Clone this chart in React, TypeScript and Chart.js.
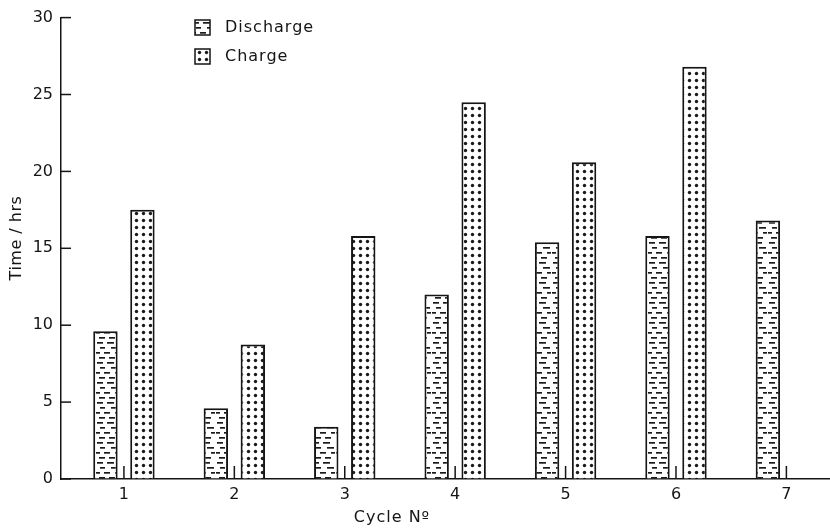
import React, { useEffect, useRef } from "react";
import { Chart, registerables } from "chart.js";

Chart.register(...registerables);

const cycles = [1, 2, 3, 4, 5, 6, 7];
const cycleLabels = ["1", "2", "3", "4", "5", "6", "7"];
const dischargeHours = [9.6, 4.6, 3.4, 12.0, 15.4, 15.8, 16.8];
const chargeHours: (number | null)[] = [17.5, 8.75, 15.8, 24.5, 20.6, 26.8, null];
const yTicks = [0, 5, 10, 15, 20, 25, 30];
const seriesNames = ["Discharge", "Charge"];
const xTitle = "Cycle Nº";
const yTitle = "Time / hrs";

const FONT = "'DejaVu Sans', 'Liberation Sans', sans-serif";
const INK = "#151515";

function makeDashPattern(): CanvasPattern | string {
  const c = document.createElement("canvas");
  c.width = 24;
  c.height = 20;
  const g = c.getContext("2d");
  if (!g) return "#fff";
  g.fillStyle = "#fff";
  g.fillRect(0, 0, 24, 20);
  g.fillStyle = "#1a1a1a";
  const rows: [number, number, number][] = [
    [2, 1, 6], [2, 11, 7],
    [7, 4, 5], [7, 15, 7],
    [12, 0, 4], [12, 8, 6], [12, 19, 4],
    [17, 3, 6], [17, 13, 6],
  ];
  rows.forEach(([y, x, w]) => g.fillRect(x, y, w, 1.7));
  return g.createPattern(c, "repeat") || "#fff";
}

function makeDotPattern(): CanvasPattern | string {
  const c = document.createElement("canvas");
  c.width = 7;
  c.height = 7;
  const g = c.getContext("2d");
  if (!g) return "#fff";
  g.fillStyle = "#fff";
  g.fillRect(0, 0, 7, 7);
  g.fillStyle = "#1a1a1a";
  g.beginPath();
  g.arc(3.5, 3.5, 1.7, 0, Math.PI * 2);
  g.fill();
  return g.createPattern(c, "repeat") || "#fff";
}

const decorPlugin = {
  id: "decor",
  afterDraw(chart: any) {
    const { ctx, chartArea, scales } = chart;
    const xs = scales.x;
    const ys = scales.y;
    ctx.save();
    ctx.strokeStyle = INK;
    ctx.lineWidth = 1.5;
    yTicks.forEach((v) => {
      const py = ys.getPixelForValue(v);
      ctx.beginPath();
      ctx.moveTo(chartArea.left, py);
      ctx.lineTo(chartArea.left + 10, py);
      ctx.stroke();
    });
    cycles.forEach((v) => {
      const px = xs.getPixelForValue(v);
      ctx.beginPath();
      ctx.moveTo(px, chartArea.bottom);
      ctx.lineTo(px, chartArea.bottom - 13);
      ctx.stroke();
    });
    ctx.fillStyle = INK;
    ctx.font = `16px ${FONT}`;
    (ctx as any).letterSpacing = "1px";
    ctx.textAlign = "center";
    ctx.textBaseline = "middle";
    ctx.fillText(xTitle, 392, 518);
    ctx.save();
    ctx.translate(17, 238);
    ctx.rotate(-Math.PI / 2);
    (ctx as any).letterSpacing = "0.5px";
    ctx.fillText(yTitle, 0, 0);
    ctx.restore();
    (ctx as any).letterSpacing = "1px";
    ctx.textAlign = "left";
    chart.data.datasets.forEach((ds: any, i: number) => {
      const top = 20 + i * 29;
      ctx.fillStyle = ds.backgroundColor;
      ctx.fillRect(195, top, 15, 15);
      ctx.lineWidth = 1.5;
      ctx.strokeStyle = INK;
      ctx.strokeRect(195, top, 15, 15);
      ctx.fillStyle = INK;
      ctx.fillText(ds.label, 225, top + 8);
    });
    ctx.restore();
  },
};

export default function App() {
  const ref = useRef<HTMLCanvasElement | null>(null);

  useEffect(() => {
    document.body.style.margin = "0";
    const canvas = ref.current;
    if (!canvas) return;
    const dash = makeDashPattern();
    const dots = makeDotPattern();
    const chart = new Chart(canvas, {
      type: "bar",
      data: {
        datasets: [
          {
            label: seriesNames[0],
            data: cycles.map((c, i) => ({ x: c, y: dischargeHours[i] })) as any,
            backgroundColor: dash as any,
            borderColor: INK,
            borderWidth: 2,
            borderSkipped: "bottom",
          },
          {
            label: seriesNames[1],
            data: cycles.map((c, i) => ({ x: c, y: chargeHours[i] })) as any,
            backgroundColor: dots as any,
            borderColor: INK,
            borderWidth: 2,
            borderSkipped: "bottom",
          },
        ],
      },
      options: {
        animation: false,
        responsive: true,
        maintainAspectRatio: false,
        categoryPercentage: 0.67,
        barPercentage: 0.66,
        layout: { padding: { top: 13, right: 0, left: 0, bottom: 0 } },
        plugins: {
          legend: { display: false },
          tooltip: { enabled: false },
        },
        scales: {
          x: {
            type: "linear",
            offset: false,
            min: 0.43,
            max: 7.395,
            afterBuildTicks: (s: any) => {
              s.ticks = cycles.map((v) => ({ value: v }));
            },
            afterFit: (s: any) => {
              s.height = 50;
            },
            ticks: {
              color: INK,
              font: { family: FONT, size: 16 },
              padding: 6,
              autoSkip: false,
              maxRotation: 0,
              callback: (v: any) => cycleLabels[cycles.indexOf(Number(v))] ?? "",
            },
            grid: { display: true, offset: false, drawOnChartArea: false, drawTicks: false },
            border: { display: true, color: INK, width: 1.5 },
          },
          y: {
            type: "linear",
            min: 0,
            max: 30,
            afterBuildTicks: (s: any) => {
              s.ticks = yTicks.map((v) => ({ value: v }));
            },
            afterFit: (s: any) => {
              s.width = 61;
            },
            ticks: {
              color: INK,
              font: { family: FONT, size: 16 },
              padding: 8,
            },
            grid: { display: true, drawOnChartArea: false, drawTicks: false },
            border: { display: true, color: INK, width: 1.5 },
          },
        },
      },
      plugins: [decorPlugin],
    });
    return () => chart.destroy();
  }, []);

  return (
    <div style={{ width: 830, height: 529, position: "relative", background: "#fff" }}>
      <canvas ref={ref} />
    </div>
  );
}
